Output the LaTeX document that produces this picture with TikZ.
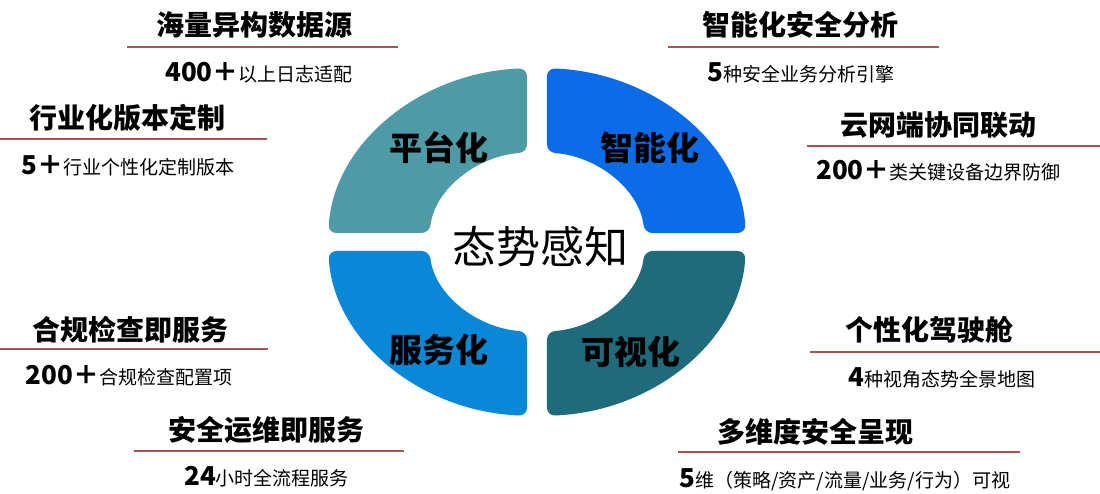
\documentclass[tikz,border=0pt]{standalone}
\usepackage{fontspec}
\setmainfont{Noto Sans CJK SC}
\definecolor{cTL}{HTML}{4E9AA6}
\definecolor{cTR}{HTML}{0A6CE6}
\definecolor{cBL}{HTML}{0A88D8}
\definecolor{cBR}{HTML}{1E6B7B}
\definecolor{rulec}{HTML}{A9514C}
\begin{document}
\begin{tikzpicture}[x=1pt,y=1pt]
\tikzset{
  quadrant/.pic={
    \path[rounded corners=8pt,pic actions]
      (87.26:209 and 174) arc[start angle=87.26,end angle=2.965,x radius=209,y radius=174]
      -- (5.74:108 and 90) arc[start angle=5.74,end angle=84.69,x radius=108,y radius=90]
      -- cycle;
  },
  ttl/.style={inner sep=0pt,font=\bfseries\fontsize{28}{28}\selectfont},
  sub/.style={inner sep=0pt,anchor=base},
  rulel/.style={draw=rulec,line width=2pt},
  ringlab/.style={inner sep=0pt,font=\bfseries\fontsize{33}{33}\selectfont},
}
\newcommand\bignum[1]{{\bfseries\fontsize{26}{26}\selectfont #1}}
\newcommand\smalltxt[1]{{\fontsize{19}{19}\selectfont #1}}
\useasboundingbox (0,0) rectangle (1100,494);
\fill[white] (0,0) rectangle (1100,494);
\coordinate (c) at (537,252);
% ring
\pic[fill=cTR] at (c) {quadrant};
\pic[fill=cTL,xscale=-1] at (c) {quadrant};
\pic[fill=cBL,xscale=-1,yscale=-1] at (c) {quadrant};
\pic[fill=cBR,yscale=-1] at (c) {quadrant};
\node[ringlab] (pt) at (439,346) {平台化};
\node[ringlab] (zn) at (650,346) {智能化};
\node[ringlab] (fw) at (439,144) {服务化};
\node[ringlab] (ks) at (631,142) {可视化};
\node[inner sep=0pt,font=\fontsize{44}{44}\selectfont] (tsgz) at (540,247) {态势感知};
% left side
\node[ttl] (l1t) at (254,469) {海量异构数据源};
\draw[rulel] (127,447.3) coordinate (l1a) -- (398,447.3) coordinate (l1b);
\node[sub] (l1s) at (259,412) {\bignum{400＋}\smalltxt{以上日志适配}};
\node[ttl] (l2t) at (127.5,376) {行业化版本定制};
\draw[rulel] (0,355) coordinate (l2a) -- (267,355) coordinate (l2b);
\node[sub] (l2s) at (128,319) {\bignum{5＋}\smalltxt{行业个性化定制版本}};
\node[ttl] (l3t) at (130.5,164) {合规检查即服务};
\draw[rulel] (0,145) coordinate (l3a) -- (268,145) coordinate (l3b);
\node[sub] (l3s) at (129,109) {\bignum{200＋}\smalltxt{合规检查配置项}};
\node[ttl] (l4t) at (266,64) {安全运维即服务};
\draw[rulel] (134,43) coordinate (l4a) -- (404,43) coordinate (l4b);
\node[sub] (l4s) at (266.5,8) {\bignum{24}\smalltxt{小时全流程服务}};
% right side
\node[ttl] (r1t) at (800.5,469) {智能化安全分析};
\draw[rulel] (668,447.3) coordinate (r1a) -- (939,447.3) coordinate (r1b);
\node[sub] (r1s) at (801,412) {\bignum{5}\smalltxt{种安全业务分析引擎}};
\node[ttl] (r2t) at (938.5,369) {云网端协同联动};
\draw[rulel] (807,348) coordinate (r2a) -- (1100,348) coordinate (r2b);
\node[sub] (r2s) at (938.5,314) {\bignum{200＋}\smalltxt{类关键设备边界防御}};
\node[ttl] (r3t) at (929,164) {个性化驾驶舱};
\draw[rulel] (810,142) coordinate (r3a) -- (1100,142) coordinate (r3b);
\node[sub] (r3s) at (942,107) {\bignum{4}\smalltxt{种视角态势全景地图}};
\node[ttl] (r4t) at (815.5,62) {多维度安全呈现};
\draw[rulel] (678,42) coordinate (r4a) -- (1020,42) coordinate (r4b);
\node[sub] (r4s) at (845,6) {\bignum{5}\smalltxt{维（策略/资产/流量/业务/行为）可视}};
\end{tikzpicture}
\end{document}
